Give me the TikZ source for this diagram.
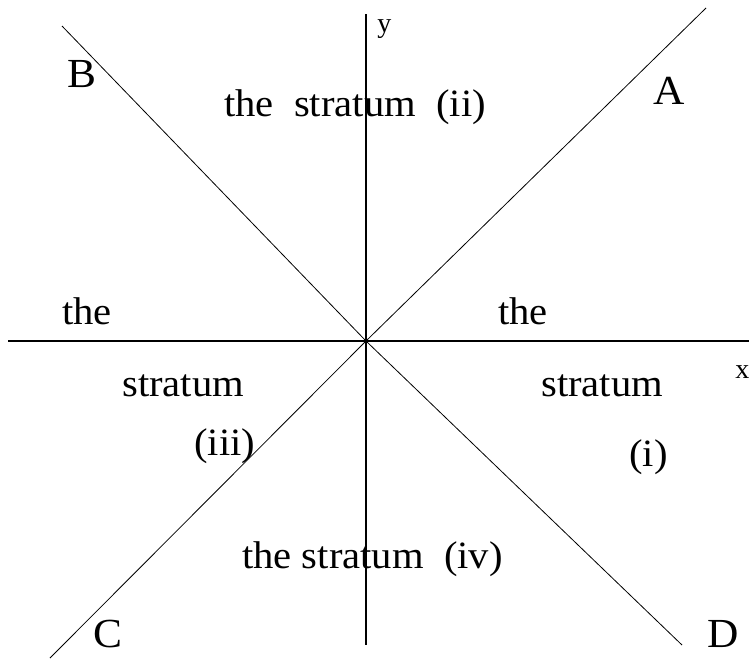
\documentclass[tikz,border=0pt]{standalone}
\usepackage{fontspec}
\setmainfont{Liberation Serif}
\newfontfamily\widefont[FakeStretch=1.05]{Liberation Serif}
\usetikzlibrary{positioning}

\tikzset{
  axisline/.style={line width=1.5pt},
  rayline/.style={line width=0.6pt},
  stratumtext/.style={font=\widefont\fontsize{29}{29}\selectfont, inner sep=0pt, anchor=base west},
  raylabel/.style={font=\widefont\fontsize{31}{31}\selectfont, inner sep=0pt, anchor=base west},
  axislabel/.style={font=\fontsize{21}{21}\selectfont, inner sep=0pt, anchor=base west}
}

\begin{document}
\begin{tikzpicture}[x=0.75pt,y=-0.75pt]
  \useasboundingbox (0,0) rectangle (749,658);

  % origin and ends of the lines
  \coordinate (O)  at (366,341);
  \coordinate (xl) at (8,341);
  \coordinate (xr) at (749,341);
  \coordinate (yt) at (366,14);
  \coordinate (yb) at (366,645);
  \coordinate (rA) at (706,8);
  \coordinate (rB) at (62,26);
  \coordinate (rC) at (50,658);
  \coordinate (rD) at (682,645);

  % axes
  \draw[axisline] (xl) -- (xr);
  \draw[axisline] (yt) -- (yb);

  % rays
  \draw[rayline] (O) -- (rA);
  \draw[rayline] (O) -- (rB);
  \draw[rayline] (O) -- (rC);
  \draw[rayline] (O) -- (rD);

  % axis names
  \node[axislabel] (xname) at (735,378) {x};
  \node[axislabel] (yname) at (377,32) {y};

  % ray names
  \node[raylabel] (nA) at (653,104) {A};
  \node[raylabel] (nB) at (67,87) {B};
  \node[raylabel] (nC) at (93,647) {C};
  \node[raylabel] (nD) at (707,647) {D};

  % strata
  \node[stratumtext] (s2)  at (224,116) {the\ \ stratum\ \ (ii)};
  \node[stratumtext] (s4)  at (242,568) {the stratum\ \ (iv)};
  \node[stratumtext] (s3a) at (62,324)  {the};
  \node[stratumtext] (s3b) at (122,396) {stratum};
  \node[stratumtext] (s3c) at (194,455) {(iii)};
  \node[stratumtext] (s1a) at (498,324) {the};
  \node[stratumtext] (s1b) at (541,396) {stratum};
  \node[stratumtext] (s1c) at (629,466) {(i)};
\end{tikzpicture}
\end{document}
